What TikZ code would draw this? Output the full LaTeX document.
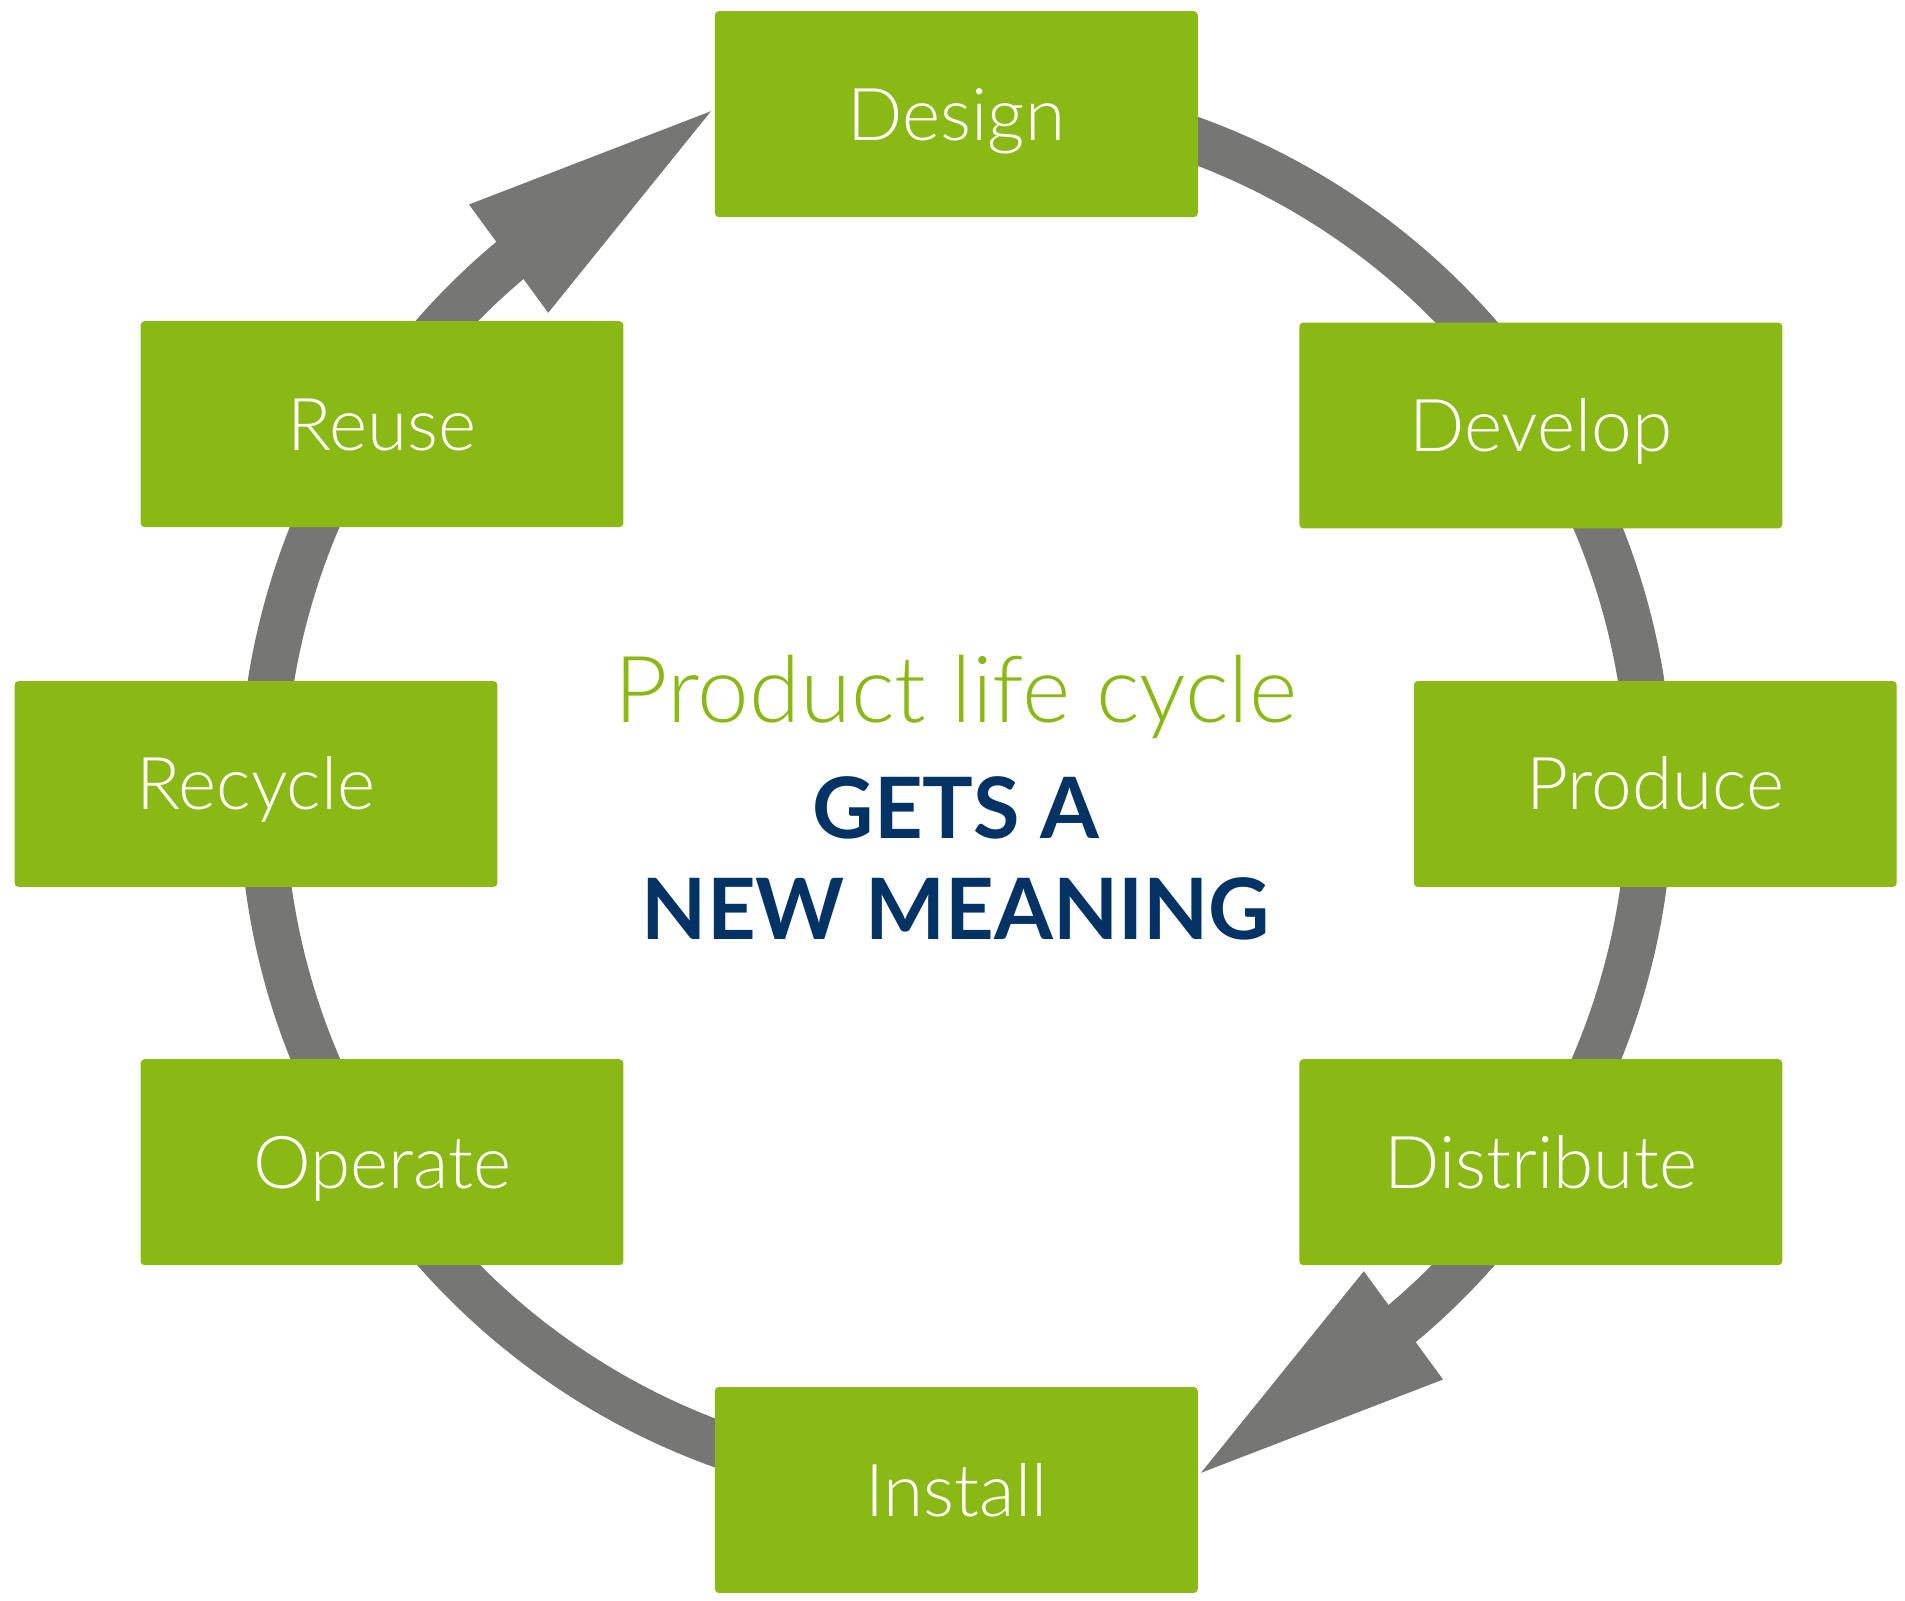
\documentclass[tikz,border=0pt]{standalone}
\usepackage{fontspec}
\setmainfont{Lato}[UprightFont=* Light,BoldFont=* Bold]
\definecolor{cycgreen}{RGB}{138,185,22}
\definecolor{cycgray}{RGB}{118,119,117}
\definecolor{cycblue}{RGB}{3,51,100}
\begin{document}
\begin{tikzpicture}[x=0.02cm,y=0.02cm,
  stage/.style={fill=cycgreen,rounded corners=0.08cm,minimum width=9.66cm,minimum height=4.12cm,inner sep=0pt,text=white,text height=1.04cm,text depth=0pt,font=\fontsize{41.5}{50}\selectfont},
  ring/.style={draw=cycgray,line width=0.92cm}]
\useasboundingbox (0,0) rectangle (1905,1600);
\coordinate (hub) at (956,808);
% ring behind the boxes
\draw[ring] (hub) ++(90:694) arc[start angle=90,end angle=-50.5,radius=694];
\draw[ring] (hub) ++(270:694) arc[start angle=270,end angle=129.5,radius=694];
\foreach \r in {0,180}
  \fill[cycgray,shift={(hub)},rotate=\r] (-245,680.8) -- (-487,587.5) -- (-407.8,479.2) -- cycle;
% stages
\node[stage] (design) at (956.3,1485.8) {Design};
\node[stage] (develop) at (1540.8,1174.5) {Develop};
\node[stage] (produce) at (1655.2,816) {Produce};
\node[stage] (distribute) at (1540.8,437.8) {Distribute};
\node[stage] (install) at (956.3,110) {Install};
\node[stage] (operate) at (382,437.8) {Operate};
\node[stage] (recycle) at (256,816) {Recycle};
\node[stage] (reuse) at (382,1175.8) {Reuse};
% centre text
\node[anchor=base,text=cycgreen,font=\fontsize{52.7}{60}\selectfont] (title) at (956,877) {Product life cycle};
\node[anchor=base,text=cycblue,font=\bfseries\fontsize{48.2}{58}\selectfont] (gets) at (956,761.7) {GETS A};
\node[anchor=base,text=cycblue,font=\bfseries\fontsize{48.2}{58}\selectfont] (meaning) at (956,661) {NEW MEANING};
\end{tikzpicture}
\end{document}
